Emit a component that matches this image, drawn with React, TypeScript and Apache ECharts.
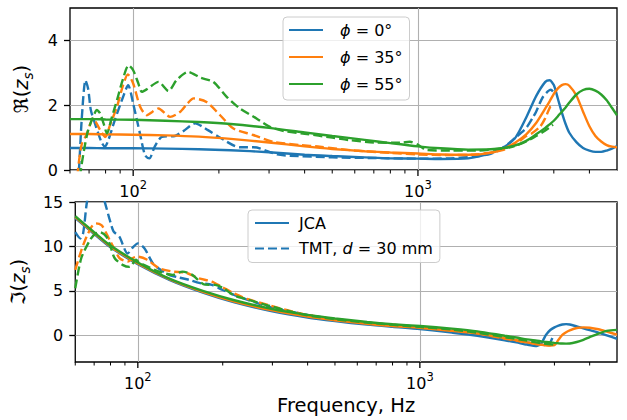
import { useEffect, useRef } from 'react';
import * as echarts from 'echarts';

// ---------- data ----------
const reJcaFreq = [60, 70, 80, 100, 130, 170, 220, 300, 400, 500, 650, 800, 1000, 1200, 1500, 1800, 2000, 2200, 2400, 2600, 2800, 2900, 3000, 3100, 3200, 3300, 3400, 3600, 3800, 4000, 4200, 4400, 4600, 4800, 5000];
const reJca0 = [0.68, 0.68, 0.67, 0.67, 0.66, 0.64, 0.61, 0.55, 0.47, 0.43, 0.39, 0.36, 0.35, 0.34, 0.36, 0.52, 0.70, 1.0, 1.62, 2.28, 2.72, 2.77, 2.62, 2.2, 1.78, 1.42, 1.15, 0.86, 0.68, 0.6, 0.56, 0.56, 0.6, 0.66, 0.74];
const reJca35 = [1.11, 1.11, 1.10, 1.09, 1.07, 1.03, 0.96, 0.85, 0.73, 0.65, 0.58, 0.54, 0.51, 0.48, 0.47, 0.53, 0.66, 0.85, 1.1, 1.45, 1.9, 2.12, 2.35, 2.52, 2.62, 2.65, 2.6, 2.3, 1.8, 1.35, 1.05, 0.88, 0.77, 0.72, 0.70];
const reJca55 = [1.57, 1.57, 1.56, 1.55, 1.52, 1.48, 1.42, 1.30, 1.16, 1.05, 0.93, 0.83, 0.73, 0.67, 0.63, 0.64, 0.68, 0.76, 0.9, 1.1, 1.3, 1.41, 1.52, 1.66, 1.8, 1.93, 2.08, 2.33, 2.47, 2.51, 2.45, 2.33, 2.15, 1.92, 1.69];

const reTmt0Freq = [60, 64.5, 66, 68, 69.5, 71, 73, 75.4, 77.5, 79.6, 82, 86.2, 92.2, 96, 100, 105.6, 110, 114, 119, 126, 140, 150, 165, 183, 200, 237, 265, 280, 320, 355, 500, 700, 1000, 1300, 1600, 1800, 2000, 2200, 2400, 2540, 2600, 2750, 2930, 2980];
const reTmt0 = [-4, 0, 1.6, 2.77, 2.5, 1.85, 1.5, 1.13, 0.85, 0.72, 0.95, 1.54, 2.26, 2.62, 2.05, 1.13, 0.46, 0.36, 0.72, 1.02, 1.05, 1.2, 1.44, 1.23, 1.02, 0.70, 0.70, 0.66, 0.48, 0.44, 0.39, 0.37, 0.35, 0.36, 0.42, 0.5, 0.7, 1.0, 1.3, 1.64, 1.8, 2.26, 2.48, 2.42];
const reTmt35Freq = [60, 64, 66, 68.5, 72.4, 76.6, 79.8, 83, 87.7, 92, 95.8, 100, 105.8, 111.7, 117, 122.7, 134.8, 146, 155, 163, 181, 202, 225, 264, 310, 385, 452, 600, 800, 1000, 1300, 1600, 2000, 2200, 2400, 2500, 2680, 2800, 2913, 2980];
const reTmt35 = [-3, 0, 0.8, 1.08, 1.59, 1.23, 1.02, 1.4, 1.95, 2.6, 2.95, 2.67, 1.95, 1.69, 1.8, 1.9, 1.64, 1.79, 2.05, 2.21, 2.1, 1.69, 1.28, 1.08, 0.87, 0.77, 0.72, 0.6, 0.53, 0.48, 0.46, 0.48, 0.62, 0.8, 1.05, 1.12, 1.33, 1.6, 1.95, 2.0];
const reTmt55Freq = [60, 65.5, 69, 72, 74.6, 76.5, 78.7, 80.9, 84, 88, 92, 96.3, 100, 104, 107.3, 112, 122.7, 133, 142, 156, 172, 191, 213, 237, 271, 302, 340, 400, 500, 577, 700, 866, 937, 1000, 1069, 1300, 1600, 2000, 2200, 2400, 2600, 2800, 2980];
const reTmt55 = [-3, 0, 1.13, 1.6, 1.85, 1.75, 1.44, 1.13, 1.6, 2.2, 2.8, 3.23, 3.08, 2.7, 2.41, 2.5, 2.72, 2.44, 2.77, 3.03, 2.85, 2.72, 2.26, 1.9, 1.59, 1.33, 1.2, 1.12, 1.0, 0.92, 0.85, 0.84, 0.87, 0.78, 0.62, 0.6, 0.6, 0.67, 0.75, 0.88, 1.05, 1.22, 1.4];

const imJcaFreq = [60, 70, 80, 100, 130, 170, 220, 300, 400, 500, 650, 800, 1000, 1300, 1600, 2000, 2200, 2400, 2600, 2700, 2800, 2900, 3000, 3100, 3200, 3300, 3400, 3600, 3800, 4000, 4300, 4600, 5000];
const imJca0 = [13.2, 11.4, 9.9, 8.0, 6.2, 4.8, 3.7, 2.7, 2.0, 1.6, 1.2, 0.95, 0.7, 0.3, -0.05, -0.55, -0.8, -1.05, -1.2, -0.85, 0.05, 0.6, 0.9, 1.1, 1.22, 1.26, 1.22, 1.0, 0.78, 0.58, 0.3, 0.0, -0.4];
const imJca35 = [13.3, 11.5, 10.0, 8.1, 6.3, 4.9, 3.8, 2.8, 2.1, 1.7, 1.3, 1.05, 0.85, 0.5, 0.2, -0.3, -0.55, -0.8, -1.0, -1.07, -1.12, -1.14, -1.1, -0.5, 0.05, 0.35, 0.55, 0.82, 0.9, 0.86, 0.68, 0.42, 0.08];
const imJca55 = [13.4, 11.6, 10.1, 8.2, 6.35, 5.0, 3.95, 2.95, 2.3, 1.9, 1.5, 1.25, 1.05, 0.75, 0.45, -0.05, -0.25, -0.45, -0.6, -0.68, -0.75, -0.8, -0.85, -0.89, -0.92, -0.93, -0.92, -0.75, -0.5, -0.2, 0.2, 0.5, 0.62];

const imTmt0Freq = [60, 62.5, 64, 66, 68.5, 71, 73.5, 76, 79.5, 82, 86, 92, 96, 100, 105.5, 113, 120, 129, 140, 152, 165, 183, 200, 230, 300, 400, 500, 700, 1000, 1300, 1600, 2000, 2400, 2700, 2850, 2900, 2950];
const imTmt0 = [11.6, 10.9, 11.5, 15, 17.2, 17.2, 16.3, 15.2, 13.0, 11.7, 11.1, 9.2, 9.9, 10.35, 9.8, 8.1, 7.4, 6.8, 6.5, 6.24, 5.9, 5.68, 5.1, 4.3, 3.1, 2.3, 1.8, 1.3, 0.85, 0.5, 0.15, -0.35, -0.8, -1.05, -1.1, -0.8, -0.3];
const imTmt35Freq = [60, 62.5, 65, 68.5, 71, 74.3, 77, 79.5, 83, 86.2, 92.2, 96, 100, 108, 119, 133, 148, 164, 183, 200, 220, 244, 294, 385, 504, 660, 1000, 1300, 1600, 1940, 2300, 2680, 2990];
const imTmt35 = [7.36, 9.2, 10.7, 12.2, 12.6, 12.4, 11.6, 10.7, 9.6, 8.67, 8.3, 8.7, 8.85, 8.5, 7.55, 7.17, 7.05, 6.43, 6.05, 5.4, 4.7, 4.1, 3.35, 2.4, 1.8, 1.42, 0.95, 0.6, 0.25, -0.3, -0.7, -1.04, -1.15];
const imTmt55Freq = [60, 63, 67.6, 70.5, 73.4, 77.4, 80, 82.8, 88.6, 93.5, 98.6, 101, 105.5, 119, 133, 144, 156, 173, 188, 200, 219, 244, 294, 385, 504, 660, 990, 1300, 1600, 2000, 2400, 2700, 2980];
const imTmt55 = [5.3, 8.67, 10.7, 11.4, 11.6, 11.1, 10.0, 8.67, 7.9, 7.7, 8.5, 8.2, 7.9, 7.17, 6.8, 7.17, 6.8, 5.7, 5.68, 5.35, 4.5, 4.05, 3.3, 2.35, 1.8, 1.42, 0.95, 0.65, 0.3, -0.2, -0.6, -0.9, -1.05];

const angleNames = ['ϕ = 0°', 'ϕ = 35°', 'ϕ = 55°'];
const modelNames = ['JCA', 'TMT, d = 30 mm'];
const xMajorTicks = [100, 1000];
const xMinorTicks = [60, 70, 80, 90, 200, 300, 400, 500, 600, 700, 800, 900, 2000, 3000, 4000];
const reTicks = [0, 2, 4];
const imTicks = [0, 5, 10, 15];
const freqRange = [60, 5000];
const reRange = [0, 5];
const imRange = [-3, 15];

// ---------- styling ----------
const FONT = 'DejaVu Sans';
const COLORS = ['#1f77b4', '#ff7f0e', '#2ca02c'];
const DASH = [9, 4];
const LW = 2.4;

const toPairs = (f: number[], v: number[]) => f.map((x, i) => [Math.log10(x), v[i]]);
const majorLog = xMajorTicks.map((v) => Math.log10(v));
const xMin = Math.log10(freqRange[0]);
const xMax = Math.log10(freqRange[1]);

const tickLine = { color: '#000', width: 1.3 };
const gridLine = { color: '#b0b0b0', width: 1.1 };

const supRich = {
  b: { fontFamily: FONT, fontSize: 16, color: '#000', lineHeight: 20, verticalAlign: 'bottom' },
  s: { fontFamily: FONT, fontSize: 11.5, color: '#000', lineHeight: 12, verticalAlign: 'top' },
};

function xMain(gridIndex: number, withName: boolean) {
  return {
    type: 'value',
    gridIndex,
    position: 'bottom',
    min: xMin,
    max: xMax,
    axisLine: { show: false, onZero: false },
    axisTick: { show: false, customValues: majorLog },
    axisLabel: {
      customValues: majorLog,
      margin: 9,
      formatter: (v: number) => `{b|10}{s|${Math.round(v)}}`,
      rich: supRich,
    },
    splitLine: { show: true, lineStyle: gridLine },
    ...(withName
      ? {
          name: 'Frequency, Hz',
          nameLocation: 'middle',
          nameGap: 33,
          nameTextStyle: { fontFamily: FONT, fontSize: 19.5, color: '#000' },
        }
      : {}),
  };
}

const nameRich = {
  r: { fontFamily: FONT, fontSize: 19.5, color: '#000', lineHeight: 24, verticalAlign: 'top' },
  p: { fontFamily: FONT, fontSize: 19.5, color: '#000', lineHeight: 24, verticalAlign: 'top' },
  z: { fontFamily: FONT, fontSize: 19.5, fontStyle: 'italic', color: '#000', lineHeight: 24, verticalAlign: 'top' },
  s: { fontFamily: FONT, fontSize: 13.5, fontStyle: 'italic', color: '#000', lineHeight: 11, verticalAlign: 'bottom' },
};

function yAxis(gridIndex: number, range: number[], ticks: number[], name: string) {
  return {
    type: 'value',
    gridIndex,
    min: range[0],
    max: range[1],
    axisLine: { show: false, onZero: false },
    axisTick: { show: true, customValues: ticks, length: 6, lineStyle: tickLine },
    axisLabel: { customValues: ticks, margin: 12, fontFamily: FONT, fontSize: 16, color: '#000' },
    splitLine: { show: true, lineStyle: gridLine },
    name,
    nameLocation: 'middle',
    nameRotate: 90,
    nameGap: 35,
    nameTextStyle: { rich: nameRich },
  };
}

function line(name: string, data: number[][], color: string, dashed: boolean, xi: number, yi: number) {
  return {
    type: 'line',
    name,
    data,
    xAxisIndex: xi,
    yAxisIndex: yi,
    showSymbol: false,
    symbol: 'none',
    smooth: 0.25,
    clip: true,
    silent: true,
    emphasis: { disabled: true },
    lineStyle: { color, width: LW, type: dashed ? DASH : 'solid', cap: 'butt' },
    itemStyle: { color },
  };
}

// x-axis tick marks (major + minor) drawn below each panel through the axis scale
function xTicks(name: string, axisIndex: number, yBase: number) {
  const data = [
    ...xMajorTicks.map((f) => [Math.log10(f), yBase, 1]),
    ...xMinorTicks.map((f) => [Math.log10(f), yBase, 0]),
  ];
  return {
    type: 'custom',
    name,
    xAxisIndex: axisIndex,
    yAxisIndex: axisIndex,
    data,
    encode: { x: 0, y: 1 },
    clip: false,
    silent: true,
    z: 5,
    renderItem: (_p: any, api: any) => {
      const pt = api.coord([api.value(0), api.value(1)]);
      const major = api.value(2) === 1;
      const len = major ? 6 : 3.5;
      return {
        type: 'line',
        shape: { x1: pt[0], y1: pt[1], x2: pt[0], y2: pt[1] + len },
        style: { stroke: '#000', lineWidth: major ? 1.3 : 1.0 },
      };
    },
  };
}

const reJca = [reJca0, reJca35, reJca55];
const reTmtF = [reTmt0Freq, reTmt35Freq, reTmt55Freq];
const reTmt = [reTmt0, reTmt35, reTmt55];
const imJca = [imJca0, imJca35, imJca55];
const imTmtF = [imTmt0Freq, imTmt35Freq, imTmt55Freq];
const imTmt = [imTmt0, imTmt35, imTmt55];

const series: any[] = [];
for (let k = 0; k < 3; k++) {
  series.push(line(angleNames[k], toPairs(reJcaFreq, reJca[k]), COLORS[k], false, 0, 0));
  series.push(line(`Re TMT ${k}`, toPairs(reTmtF[k], reTmt[k]), COLORS[k], true, 0, 0));
}
for (let k = 0; k < 3; k++) {
  series.push(line(k === 0 ? modelNames[0] : `Im JCA ${k}`, toPairs(imJcaFreq, imJca[k]), COLORS[k], false, 1, 1));
  series.push(line(k === 0 ? modelNames[1] : `Im TMT ${k}`, toPairs(imTmtF[k], imTmt[k]), COLORS[k], true, 1, 1));
}
series.push(xTicks('ticks top', 0, reRange[0]));
series.push(xTicks('ticks bottom', 1, imRange[0]));

const legendBase = {
  orient: 'vertical',
  itemWidth: 34,
  itemHeight: 14,
  selectedMode: false,
  itemStyle: { opacity: 0 },
  backgroundColor: 'rgba(255,255,255,0.8)',
  borderColor: '#cccccc',
  borderWidth: 1,
  borderRadius: 4,
};

const option = {
  animation: false,
  textStyle: { fontFamily: FONT },
  grid: [
    { left: 70, top: 8, width: 547, height: 162, show: true, borderColor: '#000', borderWidth: 1.3, backgroundColor: 'transparent' },
    { left: 70, top: 202, width: 547, height: 160, show: true, borderColor: '#000', borderWidth: 1.3, backgroundColor: 'transparent' },
  ],
  xAxis: [xMain(0, false), xMain(1, true)],
  yAxis: [
    yAxis(0, reRange, reTicks, '{r|ℜ}{p|(}{z|z}{s|s}{p|)}'),
    yAxis(1, imRange, imTicks, '{r|ℑ}{p|(}{z|z}{s|s}{p|)}'),
  ],
  legend: [
    {
      ...legendBase,
      data: angleNames,
      left: 283,
      top: 17,
      itemGap: 11,
      padding: [5, 7, 8, 5],
      formatter: (n: string) => '{i|ϕ}' + n.slice(1),
      textStyle: {
        fontFamily: FONT,
        fontSize: 16,
        color: '#000',
        padding: [0, 0, 0, 12],
        rich: { i: { fontFamily: FONT, fontSize: 16, fontStyle: 'italic', color: '#000' } },
      },
    },
    {
      ...legendBase,
      data: modelNames,
      left: 248,
      top: 210,
      itemGap: 9.5,
      padding: [5, 7, 6, 6],
      formatter: (n: string) => (n === 'JCA' ? 'JCA' : 'TMT, {i|d} = 30 mm'),
      textStyle: {
        fontFamily: FONT,
        fontSize: 16,
        color: '#000',
        padding: [0, 0, 0, 5],
        rich: { i: { fontFamily: FONT, fontSize: 16, fontStyle: 'italic', color: '#000' } },
      },
    },
  ],
  series,
};

export default function App() {
  const ref = useRef<HTMLDivElement>(null);
  useEffect(() => {
    const chart = echarts.init(ref.current!, null, { renderer: 'svg' });
    chart.setOption(option as any);
    return () => chart.dispose();
  }, []);
  return <div ref={ref} style={{ position: 'absolute', left: 0, top: 0, width: 627, height: 420 }} />;
}
